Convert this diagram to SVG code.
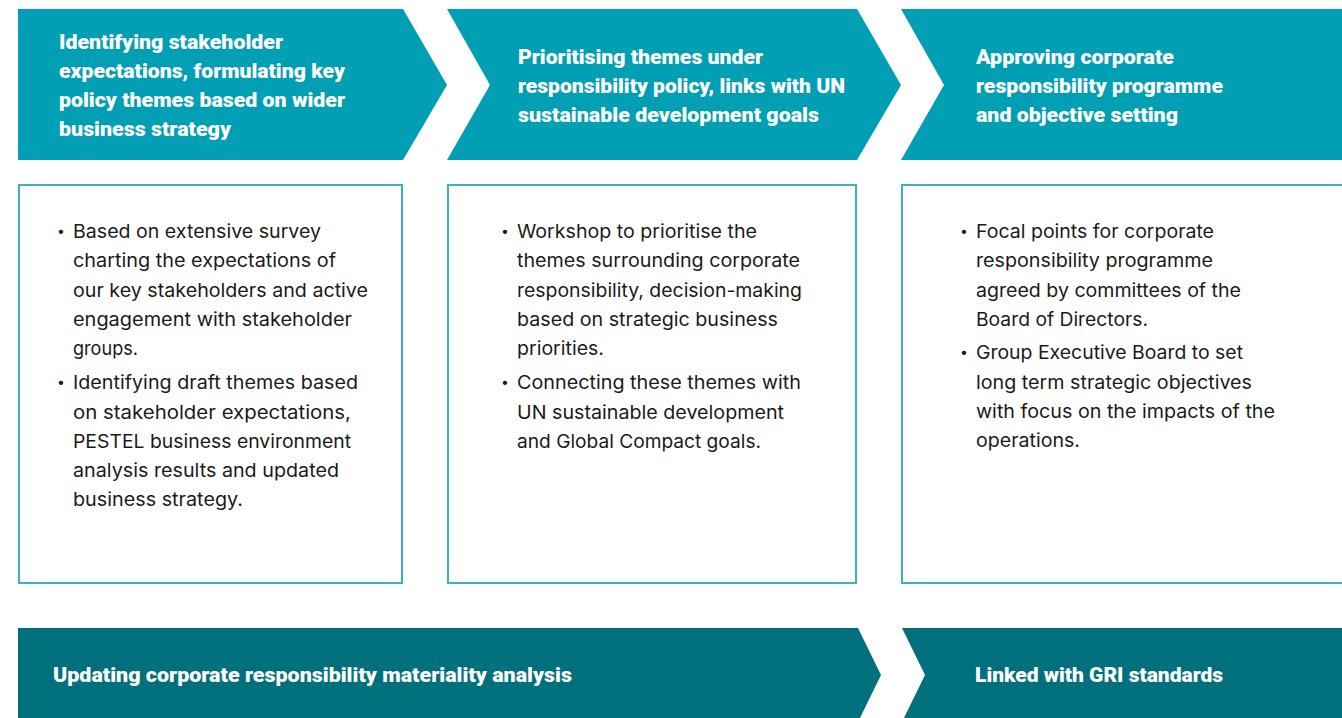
<svg xmlns="http://www.w3.org/2000/svg" width="1342" height="718" viewBox="0 0 1342 718">
  <style>
    .chev { fill: #009fb3; }
    .bar { fill: #00717c; }
    .box { fill: #ffffff; stroke: #27a9bd; stroke-width: 1.8; }
    .head { font-family: Roboto, "Liberation Sans", sans-serif; font-weight: 900; font-size: 19.5px; fill: #ffffff; }
    .body { font-family: Inter, "Liberation Sans", sans-serif; font-weight: 400; font-size: 18.5px; fill: #1a1a1a; }
    .dot { font-family: Inter, "Liberation Sans", sans-serif; font-size: 14px; fill: #1a1a1a; }
  </style>
  <rect width="1342" height="718" fill="#ffffff"/>

  <!-- step 1 -->
  <g id="step1">
    <polygon class="chev" points="18,9 403,9 447,85 403,160 18,160"/>
    <text class="head" x="59" y="49" textLength="224" lengthAdjust="spacingAndGlyphs">Identifying stakeholder</text>
    <text class="head" x="59" y="78" textLength="286" lengthAdjust="spacingAndGlyphs">expectations, formulating key</text>
    <text class="head" x="59" y="107" textLength="286" lengthAdjust="spacingAndGlyphs">policy themes based on wider</text>
    <text class="head" x="59" y="136" textLength="172" lengthAdjust="spacingAndGlyphs">business strategy</text>
  </g>

  <!-- step 2 -->
  <g id="step2">
    <polygon class="chev" points="447,9 857,9 901,85 857,160 447,160 490,85"/>
    <text class="head" x="518" y="64" textLength="245" lengthAdjust="spacingAndGlyphs">Prioritising themes under</text>
    <text class="head" x="518" y="93" textLength="327" lengthAdjust="spacingAndGlyphs">responsibility policy, links with UN</text>
    <text class="head" x="518" y="122" textLength="301" lengthAdjust="spacingAndGlyphs">sustainable development goals</text>
  </g>

  <!-- step 3 -->
  <g id="step3">
    <polygon class="chev" points="901,9 1342,9 1342,160 901,160 944,85"/>
    <text class="head" x="976" y="64" textLength="198" lengthAdjust="spacingAndGlyphs">Approving corporate</text>
    <text class="head" x="976" y="93" textLength="247" lengthAdjust="spacingAndGlyphs">responsibility programme</text>
    <text class="head" x="976" y="122" textLength="202" lengthAdjust="spacingAndGlyphs">and objective setting</text>
  </g>

  <!-- detail box 1 -->
  <g id="detail1">
    <rect class="box" x="19" y="185" width="383" height="398"/>
    <text class="dot" x="57" y="236">•</text>
    <text class="body" x="73" y="238" textLength="248" lengthAdjust="spacingAndGlyphs">Based on extensive survey</text>
    <text class="body" x="73" y="267.3" textLength="263" lengthAdjust="spacingAndGlyphs">charting the expectations of</text>
    <text class="body" x="73" y="296.6" textLength="295" lengthAdjust="spacingAndGlyphs">our key stakeholders and active</text>
    <text class="body" x="73" y="325.9" textLength="279" lengthAdjust="spacingAndGlyphs">engagement with stakeholder</text>
    <text class="body" x="73" y="355.2" textLength="65" lengthAdjust="spacingAndGlyphs">groups.</text>
    <text class="dot" x="57" y="387">•</text>
    <text class="body" x="73" y="389.2" textLength="285" lengthAdjust="spacingAndGlyphs">Identifying draft themes based</text>
    <text class="body" x="73" y="418.5" textLength="278" lengthAdjust="spacingAndGlyphs">on stakeholder expectations,</text>
    <text class="body" x="73" y="447.8" textLength="278" lengthAdjust="spacingAndGlyphs">PESTEL business environment</text>
    <text class="body" x="73" y="477.1" textLength="266" lengthAdjust="spacingAndGlyphs">analysis results and updated</text>
    <text class="body" x="73" y="506.4" textLength="170" lengthAdjust="spacingAndGlyphs">business strategy.</text>
  </g>

  <!-- detail box 2 -->
  <g id="detail2">
    <rect class="box" x="448" y="185" width="408" height="398"/>
    <text class="dot" x="501" y="236">•</text>
    <text class="body" x="517" y="238" textLength="240" lengthAdjust="spacingAndGlyphs">Workshop to prioritise the</text>
    <text class="body" x="517" y="267.3" textLength="283" lengthAdjust="spacingAndGlyphs">themes surrounding corporate</text>
    <text class="body" x="517" y="296.6" textLength="285" lengthAdjust="spacingAndGlyphs">responsibility, decision-making</text>
    <text class="body" x="517" y="325.9" textLength="261" lengthAdjust="spacingAndGlyphs">based on strategic business</text>
    <text class="body" x="517" y="355.2" textLength="87" lengthAdjust="spacingAndGlyphs">priorities.</text>
    <text class="dot" x="501" y="387">•</text>
    <text class="body" x="517" y="389.2" textLength="284" lengthAdjust="spacingAndGlyphs">Connecting these themes with</text>
    <text class="body" x="517" y="418.5" textLength="267" lengthAdjust="spacingAndGlyphs">UN sustainable development</text>
    <text class="body" x="517" y="447.8" textLength="244" lengthAdjust="spacingAndGlyphs">and Global Compact goals.</text>
  </g>

  <!-- detail box 3 -->
  <g id="detail3">
    <rect class="box" x="902" y="185" width="445" height="398"/>
    <text class="dot" x="960" y="236">•</text>
    <text class="body" x="976" y="238" textLength="238" lengthAdjust="spacingAndGlyphs">Focal points for corporate</text>
    <text class="body" x="976" y="267.3" textLength="237" lengthAdjust="spacingAndGlyphs">responsibility programme</text>
    <text class="body" x="976" y="296.6" textLength="265" lengthAdjust="spacingAndGlyphs">agreed by committees of the</text>
    <text class="body" x="976" y="325.9" textLength="172" lengthAdjust="spacingAndGlyphs">Board of Directors.</text>
    <text class="dot" x="960" y="357">•</text>
    <text class="body" x="976" y="359.2" textLength="267" lengthAdjust="spacingAndGlyphs">Group Executive Board to set</text>
    <text class="body" x="976" y="388.5" textLength="276" lengthAdjust="spacingAndGlyphs">long term strategic objectives</text>
    <text class="body" x="976" y="417.8" textLength="299" lengthAdjust="spacingAndGlyphs">with focus on the impacts of the</text>
    <text class="body" x="976" y="447.1" textLength="104" lengthAdjust="spacingAndGlyphs">operations.</text>
  </g>

  <!-- materiality bar -->
  <g id="materiality">
    <polygon class="bar" points="18,628 858,628 881,675 858,722 18,722"/>
    <text class="head" x="53" y="682" textLength="519" lengthAdjust="spacingAndGlyphs">Updating corporate responsibility materiality analysis</text>
  </g>

  <!-- GRI bar -->
  <g id="gri">
    <polygon class="bar" points="902,628 1342,628 1342,722 902,722 925,675"/>
    <text class="head" x="975" y="682" textLength="248" lengthAdjust="spacingAndGlyphs">Linked with GRI standards</text>
  </g>
</svg>
